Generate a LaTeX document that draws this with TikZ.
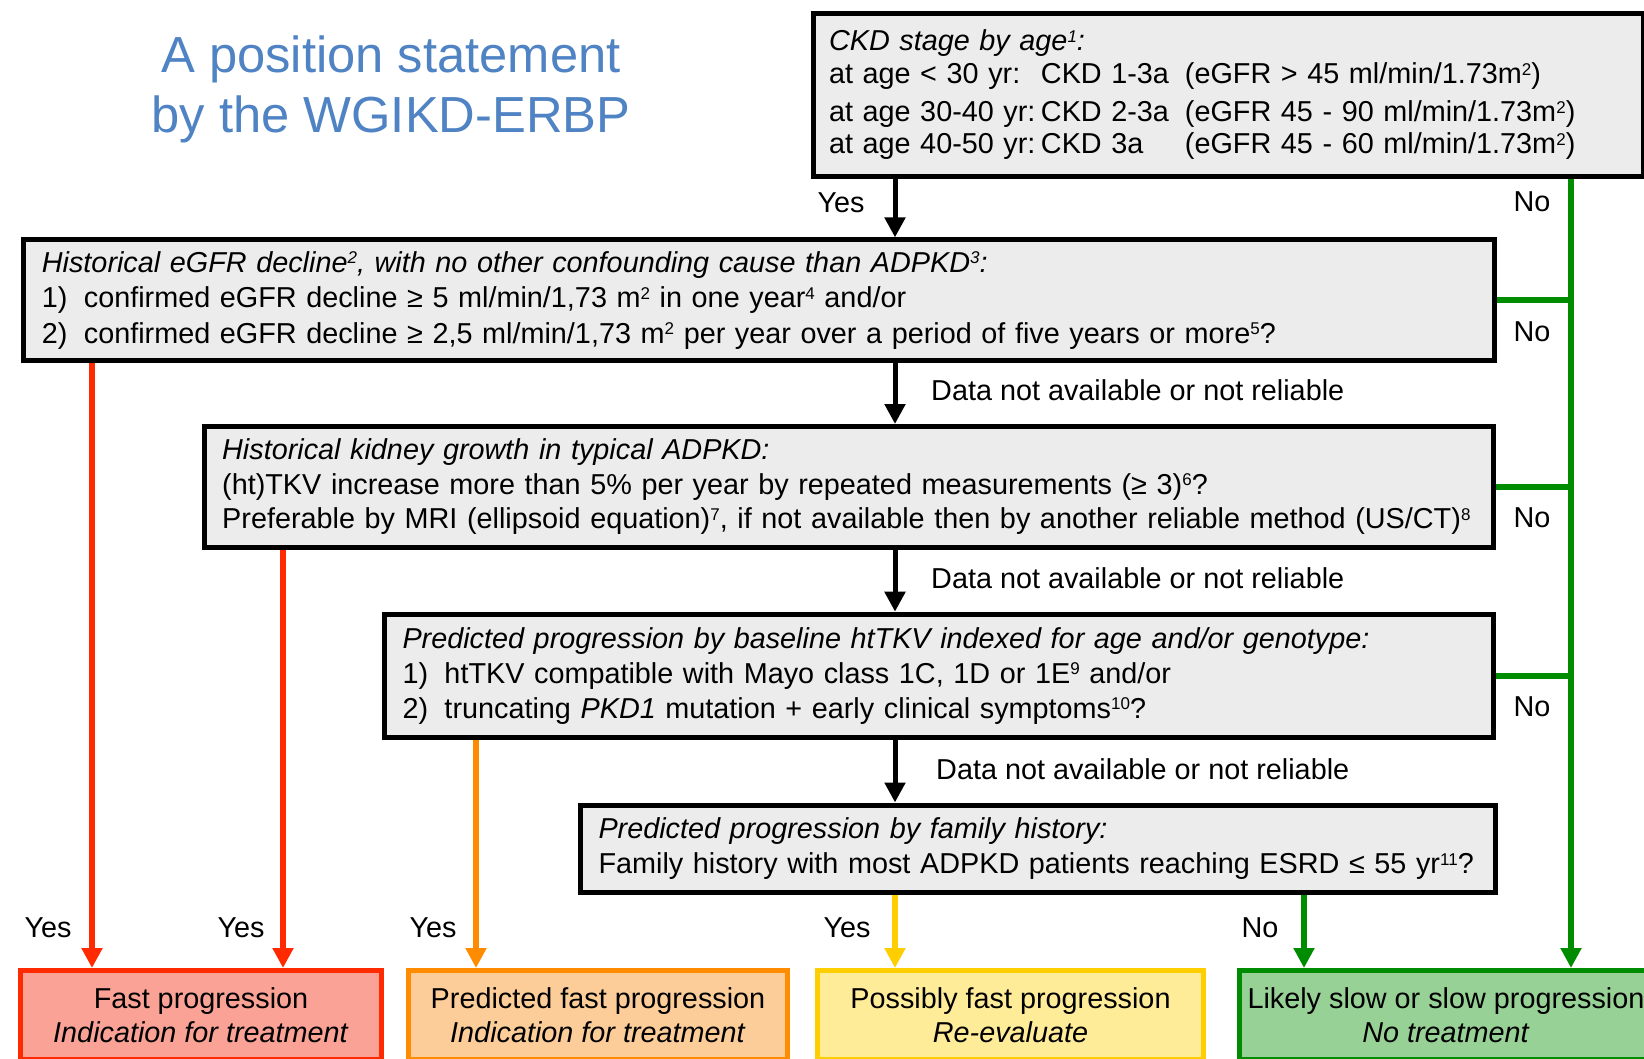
\documentclass[tikz,border=0pt]{standalone}
\usepackage{fontspec}
\setmainfont{Liberation Sans}
\usetikzlibrary{arrows.meta,backgrounds}
\definecolor{titleblue}{RGB}{79,131,196}
\definecolor{boxgray}{RGB}{236,236,236}
\definecolor{redline}{RGB}{255,42,0}
\definecolor{redfill}{RGB}{250,162,150}
\definecolor{orangeline}{RGB}{255,140,0}
\definecolor{orangefill}{RGB}{253,205,153}
\definecolor{yellowline}{RGB}{255,206,0}
\definecolor{yellowfill}{RGB}{255,236,153}
\definecolor{greenline}{RGB}{0,140,0}
\definecolor{greenfill}{RGB}{152,209,150}
\newcommand{\sups}[1]{\raisebox{8.5pt}{\fontsize{17}{17}\selectfont #1}}
\newcommand{\numitem}[1]{\makebox[42pt][l]{#1}}
\newcommand{\fsz}[1]{\fontsize{28.8}{#1}\selectfont}
\begin{document}
\begin{tikzpicture}[x=1pt,y=-1pt,
  qbox/.style={draw=black, line width=5pt, fill=boxgray, rectangle, anchor=north west,
    inner xsep=18pt, inner ysep=0pt, align=left},
  obox/.style={rectangle, line width=5pt, anchor=north west, align=center, inner sep=0pt,
    minimum height=89pt, font=\fsz{34}},
  lbl/.style={inner sep=0pt, font=\fsz{34}},
  barr/.style={draw=black, line width=5pt, -{Triangle[width=20pt,length=20pt]}},
  carr/.style={line width=6pt, -{Triangle[width=20pt,length=20pt]}},
  gline/.style={draw=greenline, line width=6pt},
]
\useasboundingbox (0,0) rectangle (1644,1059);

% title
\node[font=\fontsize{50.7}{60}\selectfont, text=titleblue, align=center, inner sep=0pt]
  (title) at (391,89) {A position statement\\by the WGIKD-ERBP};

% question boxes
\node[qbox, inner xsep=16pt, minimum width=830pt, minimum height=163pt, text width=798pt, font=\fsz{33}]
  (b1) at (810.5,11) {\mbox{\textit{CKD stage by age\sups{1}:}}\\
  \mbox{\makebox[212pt][l]{at age < 30 yr:}\makebox[144pt][l]{CKD 1-3a}(eGFR > 45 ml/min/1.73m\sups{2})}\\[5pt]
  \mbox{\makebox[212pt][l]{at age 30-40 yr:}\makebox[144pt][l]{CKD 2-3a}(eGFR 45 - 90 ml/min/1.73m\sups{2})}\\[-1pt]
  \mbox{\makebox[212pt][l]{at age 40-50 yr:}\makebox[144pt][l]{CKD 3a}(eGFR 45 - 60 ml/min/1.73m\sups{2})}};

\node[qbox, minimum width=1471pt, minimum height=121pt, text width=1435pt, font=\fsz{35.5}]
  (b2) at (21.4,237.4) {\mbox{\textit{Historical eGFR decline\sups{2}, with no other confounding cause than ADPKD\sups{3}:}}\\
  \mbox{\numitem{1)}confirmed eGFR decline ≥ 5 ml/min/1,73 m\sups{2} in one year\sups{4} and/or}\\
  \mbox{\numitem{2)}confirmed eGFR decline ≥ 2,5 ml/min/1,73 m\sups{2} per year over a period of five years or more\sups{5}?}};

\node[qbox, minimum width=1289pt, minimum height=121pt, text width=1253pt, font=\fsz{34.5}]
  (b3) at (201.7,424) {\mbox{\textit{Historical kidney growth in typical ADPKD:}}\\
  \mbox{(ht)TKV increase more than 5\% per year by repeated measurements (≥ 3)\sups{6}?}\\
  \mbox{Preferable by MRI (ellipsoid equation)\sups{7}, if not available then by another reliable method (US/CT)\sups{8}}};

\node[qbox, minimum width=1108.5pt, minimum height=123pt, text width=1072.5pt, font=\fsz{35}]
  (b4) at (382,611.7) {\mbox{\textit{Predicted progression by baseline htTKV indexed for age and/or genotype:}}\\
  \mbox{\numitem{1)}htTKV compatible with Mayo class 1C, 1D or 1E\sups{9} and/or}\\
  \mbox{\numitem{2)}truncating \textit{PKD1} mutation + early clinical symptoms\sups{10}?}};

\node[qbox, minimum width=914.5pt, minimum height=87.5pt, text width=878.5pt, font=\fsz{35}]
  (b5) at (578,802.5) {\mbox{\textit{Predicted progression by family history:}}\\
  \mbox{Family history with most ADPKD patients reaching ESRD ≤ 55 yr\sups{11}?}};

% outcome boxes
\node[obox, draw=redline, fill=redfill, minimum width=361pt] (o1) at (18,968)
  {Fast progression\\\textit{Indication for treatment}};
\node[obox, draw=orangeline, fill=orangefill, minimum width=379pt] (o2) at (406,968)
  {Predicted fast progression\\\textit{Indication for treatment}};
\node[obox, draw=yellowline, fill=yellowfill, minimum width=386pt] (o3) at (815,968)
  {Possibly fast progression\\\textit{Re-evaluate}};
\node[obox, draw=greenline, fill=greenfill, minimum width=413pt] (o4) at (1237,968)
  {Likely slow or slow progression\\\textit{No treatment}};

% labels
\node[lbl] (yes0) at (841,203) {Yes};
\node[lbl] (no0) at (1532,202) {No};
\node[lbl] (no1) at (1532,332) {No};
\node[lbl] (no2) at (1532,518) {No};
\node[lbl] (no3) at (1532,707) {No};
\node[lbl, anchor=west] (dna1) at (931,390) {Data not available or not reliable};
\node[lbl, anchor=west] (dna2) at (931,578) {Data not available or not reliable};
\node[lbl, anchor=west] (dna3) at (936,769) {Data not available or not reliable};
\node[lbl] (yes1) at (48,928) {Yes};
\node[lbl] (yes2) at (241,928) {Yes};
\node[lbl] (yes3) at (433,928) {Yes};
\node[lbl] (yes4) at (847,928) {Yes};
\node[lbl] (no4) at (1260,928) {No};

% connectors
\coordinate (ax) at (895,0);
\coordinate (gx) at (1571,0);
\coordinate (rx1) at (92,0);
\coordinate (rx2) at (283,0);
\coordinate (ox) at (476,0);
\coordinate (gx2) at (1304,0);
\begin{pgfonlayer}{background}
\fill[white] (0,0) rectangle (1644,1059);
\draw[barr] (b1.south -| ax) -- (b2.north -| ax);
\draw[barr] (b2.south -| ax) -- (b3.north -| ax);
\draw[barr] (b3.south -| ax) -- (b4.north -| ax);
\draw[barr] (b4.south -| ax) -- (b5.north -| ax);
\draw[carr, draw=greenline, fill=greenline] (b1.south -| gx) -- (o4.north -| gx);
\draw[gline] (b2.east) -- (b2.east -| gx);
\draw[gline] (b3.east) -- (b3.east -| gx);
\draw[gline] (b4.east) -- (b4.east -| gx);
\draw[carr, draw=redline, fill=redline] (b2.south -| rx1) -- (o1.north -| rx1);
\draw[carr, draw=redline, fill=redline] (b3.south -| rx2) -- (o1.north -| rx2);
\draw[carr, draw=orangeline, fill=orangeline] (b4.south -| ox) -- (o2.north -| ox);
\draw[carr, draw=yellowline, fill=yellowline] (b5.south -| ax) -- (o3.north -| ax);
\draw[carr, draw=greenline, fill=greenline] (b5.south -| gx2) -- (o4.north -| gx2);
\end{pgfonlayer}
\end{tikzpicture}
\end{document}
